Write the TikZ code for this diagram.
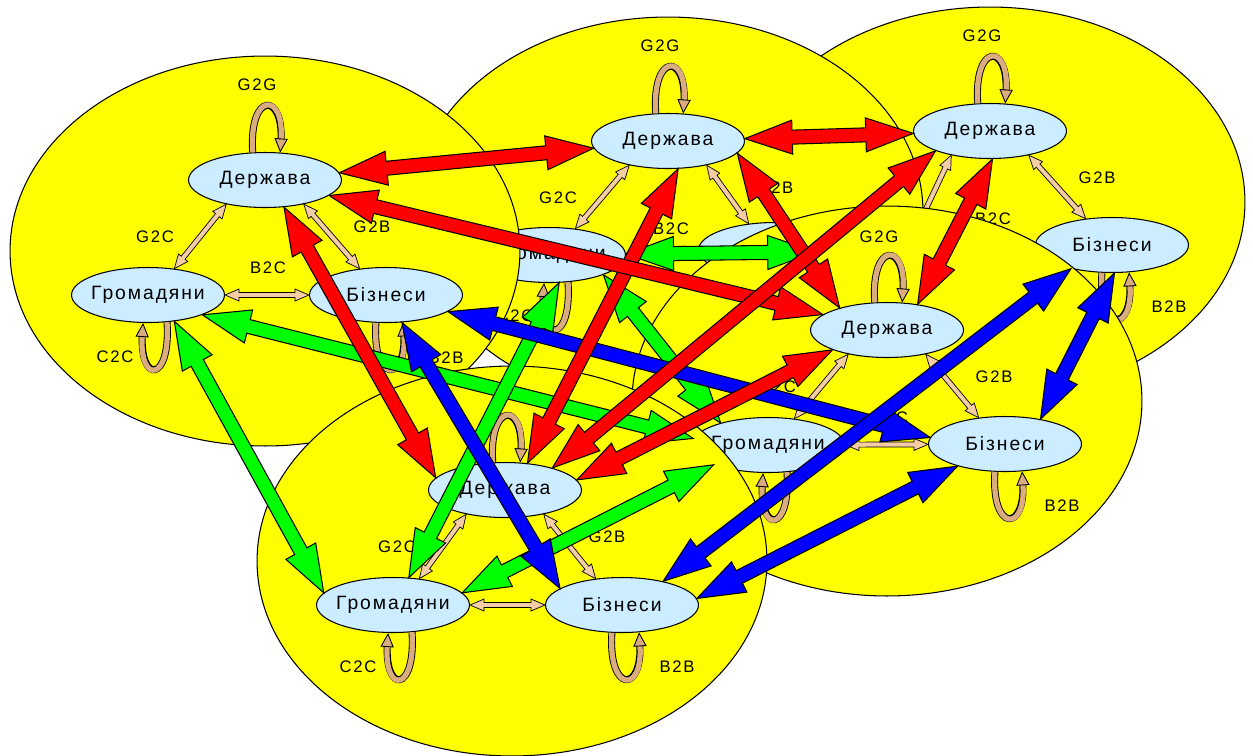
\documentclass[tikz,border=0pt]{standalone}
\usepackage{fontspec}
\usetikzlibrary{calc,arrows.meta,shapes.geometric}
\newfontfamily\nf[LetterSpace=10]{Liberation Sans}
\definecolor{ylw}{RGB}{255,255,0}
\definecolor{nodeblue}{RGB}{204,236,255}
\definecolor{tanl}{RGB}{245,205,165}
\definecolor{tanloop}{RGB}{218,172,128}
\definecolor{ared}{RGB}{255,0,0}
\definecolor{agreen}{RGB}{0,255,0}
\definecolor{ablue}{RGB}{0,0,255}
\tikzset{
  clus/.style={fill=ylw, draw=black, line width=0.6pt},
  actor/.style={ellipse, fill=nodeblue, draw=black, line width=0.6pt,
    minimum width=3.06cm, minimum height=1.1cm, inner xsep=-4pt, inner ysep=0pt,
    font=\nf\fontsize{11}{13}\selectfont},
  lbl/.style={font=\nf\fontsize{9.5}{11}\selectfont, inner sep=0pt},
  loopout/.style={draw=black, line width=4pt, shorten >=6pt},
  loopin/.style={draw=tanloop, line width=3pt,
    -{Triangle[length=8pt, width=7.5pt, fill=tanloop, color=black, line width=0.5pt]}},
  tanfill/.style={fill=tanl, draw=black, line width=0.4pt},
  bigfill/.style={fill=#1, draw=black, line width=0.6pt},
}
% fat double-headed arrow: style, from, to, head length, head half width, shaft half width
\newcommand\fatarrow[6]{%
  \path (#2) -- (#3) coordinate[pos=0] (fas) coordinate[pos=1] (fae);
  \filldraw[#1] (fas)
    -- ($(fas)!#4!(fae)!#5!90:(fae)$)
    -- ($(fas)!#4!(fae)!#6!90:(fae)$)
    -- ($(fae)!#4!(fas)!#6!-90:(fas)$)
    -- ($(fae)!#4!(fas)!#5!-90:(fas)$)
    -- (fae)
    -- ($(fae)!#4!(fas)!#5!90:(fas)$)
    -- ($(fae)!#4!(fas)!#6!90:(fas)$)
    -- ($(fas)!#4!(fae)!#6!-90:(fae)$)
    -- ($(fas)!#4!(fae)!#5!-90:(fae)$)
    -- cycle;}
\newcommand\tanarrow[2]{\fatarrow{tanfill}{#1}{#2}{0.28cm}{0.12cm}{0.05cm}}
\newcommand\bigarrow[3]{\fatarrow{bigfill=#1}{#2}{#3}{0.95cm}{0.34cm}{0.14cm}}
\newcommand\tanset[1]{%
  \tanarrow{#1-d.-148}{#1-c.45}%
  \tanarrow{#1-d.-32}{#1-b.135}%
  \tanarrow{#1-c}{#1-b}}
\newcommand\ggloop[1]{%
  \draw[loopout] (#1.114) .. controls ($(#1.114)+(-4,-61)$) and ($(#1.61)+(4,-61)$) .. (#1.61);
  \draw[loopin] (#1.114) .. controls ($(#1.114)+(-4,-61)$) and ($(#1.61)+(4,-61)$) .. (#1.61);}
\newcommand\ccloop[1]{%
  \draw[loopout] (#1.-55) .. controls ($(#1.-55)+(4,61)$) and ($(#1.-100)+(-4,61)$) .. (#1.-100);
  \draw[loopin] (#1.-55) .. controls ($(#1.-55)+(4,61)$) and ($(#1.-100)+(-4,61)$) .. (#1.-100);}
\newcommand\bbloop[1]{%
  \draw[loopout] (#1.-110) .. controls ($(#1.-110)+(-4,61)$) and ($(#1.-58)+(4,61)$) .. (#1.-58);
  \draw[loopin] (#1.-110) .. controls ($(#1.-110)+(-4,61)$) and ($(#1.-58)+(4,61)$) .. (#1.-58);}
\begin{document}
\begin{tikzpicture}[x=0.02cm, y=-0.02cm]
\useasboundingbox (0,0) rectangle (1253,755);
\fill[white] (0,0) rectangle (1253,755);
% ---------- cluster C (top right)
\draw[clus] (990,202) ellipse [x radius=5.1cm, y radius=3.9cm];
\node[actor] (C-d) at (990,131) {Держава};
\node[actor] (C-c) at (887,262) {Громадяни};
\node[actor] (C-b) at (1112,245) {Бізнеси};
\tanset{C}
\ggloop{C-d}
\bbloop{C-b}
\node[lbl] (C-g2g) at (982,36) {G2G};
\node[lbl] (C-g2b) at (1097,178) {G2B};
\node[lbl] (C-b2c) at (993,219) {B2C};
\node[lbl] (C-b2b) at (1169,307) {B2B};
% ---------- cluster B (top middle)
\draw[clus] (668,212) ellipse [x radius=5.1cm, y radius=3.9cm];
\node[actor] (B-d) at (668,141) {Держава};
\node[actor] (B-c) at (549,255) {Громадяни};
\node[actor] (B-b) at (775,250) {Бізнеси};
\tanset{B}
\ggloop{B-d}
\ccloop{B-c}
\node[lbl] (B-g2g) at (660,46) {G2G};
\node[lbl] (B-g2c) at (558,198) {G2C};
\node[lbl] (B-g2b) at (775,188) {G2B};
\node[lbl] (B-b2c) at (671,229) {B2C};
\node[lbl] (B-c2c) at (515,316) {C2C};
% ---------- cluster A (top left)
\draw[clus] (265,251) ellipse [x radius=5.1cm, y radius=3.9cm];
\node[actor] (A-d) at (265,180) {Держава};
\node[actor] (A-c) at (148,295) {Громадяни};
\node[actor] (A-b) at (386,295) {Бізнеси};
\tanset{A}
\ggloop{A-d}
\ccloop{A-c}
\bbloop{A-b}
\node[lbl] (A-g2g) at (257,85) {G2G};
\node[lbl] (A-g2c) at (155,237) {G2C};
\node[lbl] (A-g2b) at (372,227) {G2B};
\node[lbl] (A-b2c) at (268,268) {B2C};
\node[lbl] (A-c2c) at (115,357) {C2C};
\node[lbl] (A-b2b) at (446,358) {B2B};
% ---------- cluster D (middle right)
\draw[clus] (887,401) ellipse [x radius=5.1cm, y radius=3.9cm];
\node[actor] (D-d) at (887,330) {Держава};
\node[actor] (D-c) at (768,445) {Громадяни};
\node[actor] (D-b) at (1005,444) {Бізнеси};
\tanset{D}
\ggloop{D-d}
\ccloop{D-c}
\bbloop{D-b}
\node[lbl] (D-g2g) at (879,237) {G2G};
\node[lbl] (D-g2c) at (777,387) {G2C};
\node[lbl] (D-g2b) at (994,377) {G2B};
\node[lbl] (D-b2c) at (890,418) {B2C};
\node[lbl] (D-b2b) at (1062,506) {B2B};
% ---------- cluster E (bottom)
\draw[clus] (512,561) ellipse [x radius=5.1cm, y radius=3.9cm];
\node[actor] (E-d) at (505,490) {Держава};
\node[actor] (E-c) at (393,605) {Громадяни};
\node[actor] (E-b) at (622,605) {Бізнеси};
\tanset{E}
\ggloop{E-d}
\ccloop{E-c}
\bbloop{E-b}
\node[lbl] (E-g2c) at (397,547) {G2C};
\node[lbl] (E-g2b) at (607,537) {G2B};
\node[lbl] (E-c2c) at (358,667) {C2C};
\node[lbl] (E-b2b) at (677,667) {B2B};
% ---------- citizens links (green)
\bigarrow{agreen}{B-c.-20}{D-c.155}
\bigarrow{agreen}{B-c}{C-c.172}
\bigarrow{agreen}{A-c.-45}{E-c.170}
\bigarrow{agreen}{A-c.-20}{D-c.175}
\bigarrow{agreen}{E-c.10}{D-c.-160}
\bigarrow{agreen}{B-c.-70}{E-c.60}
% ---------- business links (blue)
\bigarrow{ablue}{A-b.-15}{D-b.175}
\bigarrow{ablue}{A-b.-60}{E-b.165}
\bigarrow{ablue}{D-b.-155}{E-b.5}
\bigarrow{ablue}{C-b.-150}{E-b.30}
\bigarrow{ablue}{C-b.-85}{D-b.35}
% ---------- state links (red)
\bigarrow{ared}{A-d}{B-d}
\bigarrow{ared}{B-d}{C-d}
\bigarrow{ared}{C-d.-85}{D-d.40}
\bigarrow{ared}{A-d.-55}{E-d.170}
\bigarrow{ared}{B-d.-70}{E-d.50}
\bigarrow{ared}{B-d.-10}{D-d.155}
\bigarrow{ared}{A-d}{D-d}
\bigarrow{ared}{D-d.200}{E-d.8}
\bigarrow{ared}{C-d.200}{E-d.25}
\end{tikzpicture}
\end{document}
